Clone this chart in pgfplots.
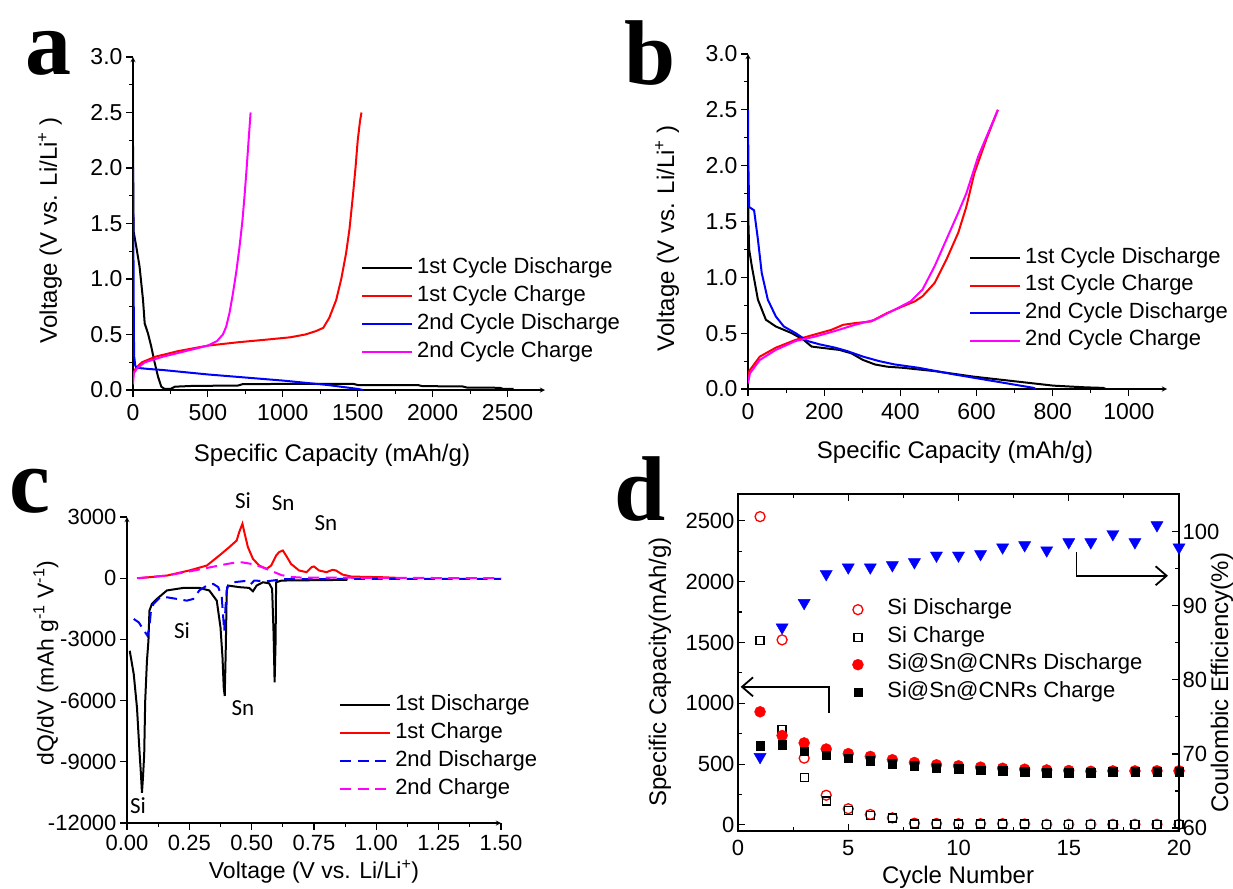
\documentclass[border=0pt]{standalone}
\usepackage{pgfplots}
\pgfplotsset{compat=1.18}
\usepackage{fontspec}
\setmainfont{Liberation Sans}
\newfontfamily\serifL{Liberation Serif}
\newfontfamily\calib{Carlito}
\usetikzlibrary{arrows.meta}
\newcommand\fs{\fontsize{22}{26}\selectfont}
\newcommand\fl{\fontsize{24}{28}\selectfont}
\newcommand\ft{\fontsize{23}{27}\selectfont}
\newcommand\fts{\fontsize{22}{26}\selectfont}
\definecolor{mag}{RGB}{255,0,255}
\pgfplotsset{
  myax/.style={
    scale only axis, anchor=south west,
    font=\fs, tick label style={font=\ft}, label style={font=\fl},
    legend style={font=\fs},
    /pgf/number format/assume math mode=true,
    /pgf/number format/1000 sep={},
    scaled ticks=false,
    enlargelimits=false,
    axis line style={-, line width=1.3pt},
    every tick/.style={line width=1.1pt, black},
    major tick length=7pt, minor tick length=4pt,
    legend cell align=left,
  },
  lineleg/.style={
    legend image code/.code={\draw[##1] (0pt,0pt) -- (50pt,0pt);},
  },
}
\begin{document}
\begin{tikzpicture}
\useasboundingbox (0pt,0pt) rectangle (1233pt,-888pt);
\tikzset{letter/.style={font=\fontsize{92}{92}\selectfont\serifL\bfseries, anchor=base, inner sep=0pt}}
\node[letter] at (48pt,-75pt) {a};
\node[letter] at (650pt,-85pt) {b};
\node[letter] at (30pt,-512pt) {c};
\node[letter] at (640pt,-520pt) {d};

% ---------------- panel a
\begin{axis}[myax, lineleg, at={(133pt,-390pt)}, width=412pt, height=333pt,
  axis lines=left, tick align=outside,
  xmin=0, xmax=2750, ymin=0, ymax=3,
  xtick={0,500,1000,1500,2000,2500}, minor x tick num=1,
  ytick={0,0.5,1,1.5,2,2.5,3}, minor y tick num=1,
  xticklabel style={yshift=-4pt},
  yticklabel style={/pgf/number format/fixed,/pgf/number format/fixed zerofill,/pgf/number format/precision=1},
  xlabel={Specific Capacity (mAh/g)}, ylabel={Voltage (V vs. Li/Li\textsuperscript{+} )},
  xlabel style={at={(axis description cs:0.483,-0.195)}, anchor=center},
  ylabel style={at={(axis description cs:-0.2015,0.48)}, anchor=center},
  legend style={draw=none, fill=none, at={(0.553,0.399)}, anchor=north west, inner sep=0pt, row sep=6pt, column sep=3pt, nodes={inner sep=1pt, text height=15pt, text depth=5pt}},
]
\addplot[black, line width=2pt] coordinates {(0,2.2) (2,1.8) (4,1.43) (22,1.29) (44,1.11) (67,0.81) (78,0.6) (100,0.51) (122,0.39) (144,0.25) (167,0.12) (189,0.03) (211,0.01) (250,0.01) (280,0.03) (400,0.037) (700,0.04) (730,0.052) (1000,0.055) (1470,0.055) (1500,0.045) (1900,0.045) (1930,0.035) (2200,0.032) (2230,0.022) (2450,0.02) (2470,0.01) (2540,0.01)};
\addlegendentry{1st Cycle Discharge}
\addplot[red, line width=2pt] coordinates {(0,0.1) (5,0.16) (20,0.2) (60,0.25) (150,0.3) (300,0.35) (500,0.4) (700,0.43) (900,0.455) (1050,0.475) (1150,0.5) (1220,0.53) (1270,0.56) (1310,0.65) (1356,0.81) (1390,1.0) (1422,1.23) (1445,1.45) (1467,1.74) (1485,2.0) (1500,2.25) (1515,2.42) (1525,2.5)};
\addlegendentry{1st Cycle Charge}
\addplot[blue, line width=2pt] coordinates {(0,2.0) (2,1.5) (4,1.0) (6,0.5) (8,0.3) (15,0.22) (25,0.2) (100,0.19) (200,0.18) (500,0.14) (1000,0.085) (1300,0.045) (1500,0.01) (1535,0.0)};
\addlegendentry{2nd Cycle Discharge}
\addplot[mag, line width=2pt] coordinates {(0,0.05) (5,0.15) (30,0.2) (80,0.25) (200,0.3) (350,0.35) (500,0.4) (560,0.44) (600,0.5) (622,0.57) (645,0.7) (667,0.87) (690,1.07) (711,1.29) (730,1.52) (744,1.74) (757,1.97) (767,2.16) (777,2.35) (785,2.5)};
\addlegendentry{2nd Cycle Charge}
\end{axis}

% ---------------- panel b
\begin{axis}[myax, lineleg, at={(748pt,-389pt)}, width=419pt, height=335pt,
  axis lines=left, tick align=outside,
  xmin=0, xmax=1100, ymin=0, ymax=3,
  xtick={0,200,400,600,800,1000}, minor x tick num=1,
  ytick={0,0.5,1,1.5,2,2.5,3}, minor y tick num=1,
  xticklabel style={yshift=-4pt},
  yticklabel style={/pgf/number format/fixed,/pgf/number format/fixed zerofill,/pgf/number format/precision=1},
  xlabel={Specific Capacity (mAh/g)}, ylabel={Voltage (V vs. Li/Li\textsuperscript{+} )},
  xlabel style={at={(axis description cs:0.494,-0.188)}, anchor=center},
  ylabel style={at={(axis description cs:-0.193,0.45)}, anchor=center},
  legend style={draw=none, fill=none, at={(0.527,0.424)}, anchor=north west, inner sep=0pt, row sep=5.5pt, column sep=3pt, nodes={inner sep=1pt, text height=15pt, text depth=5pt}},
]
\addplot[black, line width=2pt] coordinates {(0,2.0) (1,1.5) (3,1.25) (10,1.10) (26,0.80) (47,0.62) (73,0.56) (115,0.50) (146,0.44) (167,0.38) (198,0.367) (240,0.35) (271,0.32) (302,0.26) (333,0.22) (365,0.20) (406,0.19) (490,0.16) (594,0.11) (698,0.07) (802,0.03) (885,0.015) (932,0.01) (940,0.0)};
\addlegendentry{1st Cycle Discharge}
\addplot[red, line width=2pt] coordinates {(0,0.08) (2,0.15) (5,0.17) (31,0.29) (73,0.37) (125,0.44) (177,0.49) (219,0.53) (250,0.575) (281,0.59) (323,0.605) (365,0.68) (406,0.74) (438,0.785) (458,0.83) (490,0.95) (521,1.16) (552,1.40) (573,1.63) (594,1.93) (625,2.23) (656,2.50)};
\addlegendentry{1st Cycle Charge}
\addplot[blue, line width=2pt] coordinates {(0,2.5) (1,2.0) (3,1.63) (16,1.60) (26,1.34) (36,1.04) (52,0.80) (73,0.65) (94,0.56) (125,0.50) (156,0.43) (188,0.40) (229,0.37) (260,0.34) (302,0.29) (344,0.25) (385,0.22) (448,0.19) (542,0.13) (646,0.07) (750,0.01) (755,0.0)};
\addlegendentry{2nd Cycle Discharge}
\addplot[mag, line width=2pt] coordinates {(0,0.05) (5,0.14) (31,0.26) (73,0.35) (125,0.43) (177,0.47) (229,0.52) (281,0.575) (333,0.62) (385,0.71) (427,0.785) (458,0.89) (490,1.10) (521,1.34) (552,1.58) (573,1.75) (604,2.08) (656,2.50)};
\addlegendentry{2nd Cycle Charge}
\end{axis}

% ---------------- panel c
\begin{axis}[myax, lineleg, at={(127pt,-823pt)}, width=374pt, height=306pt,
  axis lines=left, tick align=outside, clip=false,
  tick label style={font=\fts},
  xmin=0, xmax=1.5, ymin=-12000, ymax=3000,
  xtick={0,0.25,0.5,0.75,1,1.25,1.5}, minor x tick num=1,
  ytick={-12000,-9000,-6000,-3000,0,3000},
  xticklabel style={yshift=-2pt,/pgf/number format/fixed,/pgf/number format/fixed zerofill,/pgf/number format/precision=2},
  xlabel={Voltage (V vs. Li/Li\textsuperscript{+})}, ylabel={dQ/dV (mAh g\textsuperscript{-1} V\textsuperscript{-1})},
  label style={font=\fontsize{23}{27}\selectfont},
  xlabel style={at={(axis description cs:0.5,-0.16)}, anchor=center},
  ylabel style={at={(axis description cs:-0.217,0.523)}, anchor=center},
  legend style={draw=none, fill=none, at={(0.567,0.421)}, anchor=north west, inner sep=0pt, row sep=6pt, column sep=3pt, nodes={inner sep=1pt, text height=15pt, text depth=5pt}},
]
\addplot[black, line width=2pt] coordinates {(0.011,-3556) (0.027,-4700) (0.04,-6340) (0.05,-8470) (0.056,-9620) (0.06,-10520) (0.064,-9780) (0.069,-8640) (0.073,-6015) (0.08,-4050) (0.086,-3065) (0.09,-1590) (0.1,-1260) (0.12,-1015) (0.16,-600) (0.226,-475) (0.29,-475) (0.33,-600) (0.36,-1100) (0.375,-2410) (0.383,-3880) (0.388,-5360) (0.392,-5770) (0.396,-3550) (0.40,-600) (0.405,-360) (0.452,-440) (0.49,-475) (0.505,-640) (0.52,-360) (0.545,-200) (0.57,-250) (0.582,-520) (0.588,-2740) (0.592,-5110) (0.596,-3065) (0.598,-200) (0.62,-115) (0.884,-80)};
\addlegendentry{1st Discharge}
\addplot[red, line width=2pt] coordinates {(0.047,0) (0.16,130) (0.25,380) (0.32,620) (0.37,1110) (0.41,1520) (0.44,1850) (0.45,2260) (0.463,2670) (0.472,2180) (0.485,1520) (0.505,950) (0.53,620) (0.56,460) (0.578,620) (0.598,1110) (0.61,1280) (0.625,1360) (0.638,1110) (0.658,700) (0.69,380) (0.72,295) (0.74,540) (0.75,575) (0.77,380) (0.8,295) (0.824,410) (0.838,380) (0.864,180) (0.9,80) (1.02,50) (1.08,20)};
\addlegendentry{1st Charge}
\addplot[blue, line width=2pt, dash pattern=on 11pt off 6.5pt] coordinates {(0.027,-2000) (0.047,-2160) (0.06,-2410) (0.073,-2650) (0.082,-2820) (0.09,-2410) (0.096,-1590) (0.106,-1260) (0.133,-935) (0.16,-935) (0.2,-1015) (0.24,-1100) (0.266,-1015) (0.29,-600) (0.32,-360) (0.346,-280) (0.366,-440) (0.38,-935) (0.39,-2600) (0.395,-1425) (0.402,-440) (0.426,-200) (0.49,-115) (0.50,-250) (0.51,-115) (0.56,-150) (0.585,-115) (0.625,-50) (1.0,-30) (1.5,-30)};
\addlegendentry{2nd Discharge}
\addplot[mag, line width=2pt, dash pattern=on 11pt off 6.5pt] coordinates {(0.04,0) (0.16,130) (0.25,330) (0.32,500) (0.38,650) (0.43,760) (0.46,780) (0.5,700) (0.54,550) (0.58,350) (0.62,150) (0.66,60) (0.7,30) (1.5,0)};
\addlegendentry{2nd Charge}
\node[font=\fontsize{23}{25}\selectfont\calib] at (axis cs:0.465,3824) {Si};
\node[font=\fontsize{23}{25}\selectfont\calib] at (axis cs:0.626,3677) {Sn};
\node[font=\fontsize{23}{25}\selectfont\calib] at (axis cs:0.798,2696) {Sn};
\node[font=\fontsize{23}{25}\selectfont\calib] at (axis cs:0.221,-2549) {Si};
\node[font=\fontsize{23}{25}\selectfont\calib] at (axis cs:0.465,-6373) {Sn};
\node[font=\fontsize{23}{25}\selectfont\calib] at (axis cs:0.044,-11127) {Si};
\end{axis}

% ---------------- panel d
\begin{axis}[myax, at={(738pt,-831pt)}, width=441pt, height=337pt,
  tick label style={font=\fts},
  xmin=0, xmax=20, ymin=-50, ymax=2720, tick align=inside,
  xtick={0,5,10,15,20}, minor x tick num=1, ytick={0,500,1000,1500,2000,2500}, minor y tick num=1,
  ytick pos=left, xtick pos=both, xticklabel pos=bottom,
  xticklabel style={yshift=-6pt},
  xlabel={Cycle Number}, ylabel={Specific Capacity(mAh/g)},
  xlabel style={at={(axis description cs:0.499,-0.137)}, anchor=center},
  ylabel style={at={(axis description cs:-0.177,0.472)}, anchor=center},
  legend style={draw=none, fill=none, at={(0.259,0.690)}, anchor=north west, inner sep=0pt, row sep=5.5pt, column sep=23pt, nodes={inner sep=1pt, text height=15pt, text depth=5pt}},
]
\addplot[only marks, red, mark=o, mark size=5pt, mark options={line width=1.3pt}] coordinates {(1,2534) (2,1521) (3,549) (4,244) (5,133) (6,86) (7,58) (8,14) (9,12) (10,10) (11,10) (12,10) (13,8) (14,5) (15,5) (16,5) (17,5) (18,5) (19,5) (20,5)};
\addlegendentry{Si Discharge}
\addplot[only marks, black, mark=square, mark size=4pt, mark options={line width=1.3pt}] coordinates {(1,1515) (2,785) (3,391) (4,197) (5,119) (6,78) (7,58) (8,8) (9,8) (10,8) (11,8) (12,8) (13,8) (14,5) (15,5) (16,5) (17,5) (18,5) (19,5) (20,5)};
\addlegendentry{Si Charge}
\addplot[only marks, red, mark=*, mark size=5.5pt] coordinates {(1,930) (2,735) (3,674) (4,624) (5,586) (6,563) (7,536) (8,513) (9,494) (10,486) (11,475) (12,466) (13,458) (14,452) (15,447) (16,441) (17,444) (18,444) (19,445) (20,445)};
\addlegendentry{Si@Sn@CNRs Discharge}
\addplot[only marks, black, mark=square*, mark size=4.2pt] coordinates {(1,652) (2,658) (3,605) (4,572) (5,549) (6,527) (7,502) (8,486) (9,469) (10,463) (11,452) (12,447) (13,438) (14,430) (15,430) (16,430) (17,438) (18,438) (19,438) (20,438)};
\addlegendentry{Si@Sn@CNRs Charge}
\draw[line width=1.8pt, -{Straight Barb[length=11pt,width=19pt,line width=1.8pt]}] (axis cs:4.14,921) -- (axis cs:4.14,1135) -- (axis cs:0.12,1135);
\draw[line width=1.8pt, -{Straight Barb[length=11pt,width=19pt,line width=1.8pt]}] (axis cs:15.35,2245) -- (axis cs:15.35,2048) -- (axis cs:19.5,2048);
\end{axis}
\begin{axis}[myax, at={(738pt,-831pt)}, width=441pt, height=337pt,
  tick label style={font=\fts},
  xmin=0, xmax=20, ymin=59.6, ymax=105.1, axis x line=none, axis y line*=right, tick align=inside,
  ytick={60,70,80,90,100}, minor y tick num=1,
  ylabel={Coulombic Efficiency(\%)},
  ylabel style={at={(axis description cs:1.0975,0.44)}, anchor=center},
]
\addplot[only marks, blue, mark=triangle*, mark size=7pt, mark options={rotate=180}] coordinates {(1,69.6) (2,87.1) (3,90.4) (4,94.3) (5,95.2) (6,95.2) (7,95.5) (8,95.9) (9,96.8) (10,96.8) (11,97.0) (12,97.9) (13,98.2) (14,97.5) (15,98.6) (16,98.6) (17,99.7) (18,98.6) (19,100.9) (20,97.9)};
\end{axis}
\end{tikzpicture}
\end{document}
